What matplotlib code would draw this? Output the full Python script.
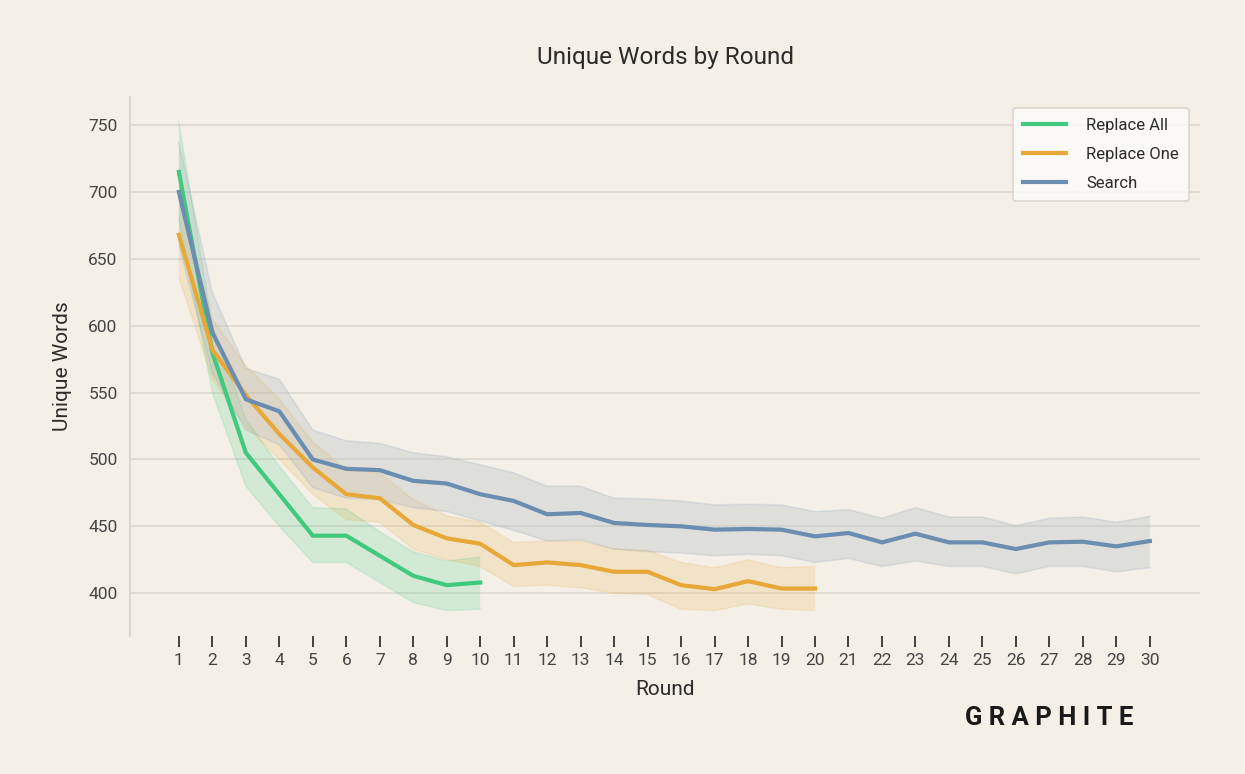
import numpy as np
import matplotlib.pyplot as plt

# Unique words per round, mean and band (upper / lower) per strategy
rounds_all = list(range(1, 11))
replace_all = [715, 580, 505, 474, 443, 443, 428, 413, 406, 408]
replace_all_hi = [752, 600, 530, 495, 464, 463, 446, 431, 424, 427]
replace_all_lo = [680, 550, 480, 450, 423, 423, 408, 393, 387, 388]

rounds_one = list(range(1, 21))
replace_one = [668, 582, 548, 519, 494, 474, 471, 451, 441, 437,
               421, 423, 421, 416, 416, 406, 403, 409, 403.5, 403.5]
replace_one_hi = [700, 605, 570, 545, 513, 492, 490, 470, 458, 453,
                  438, 439, 439, 433, 432, 423, 419, 425, 419, 420]
replace_one_lo = [636, 560, 525, 500, 474, 455, 453, 433, 425, 420,
                  405, 406, 404, 400, 399, 388, 387, 392, 388, 387]

rounds_search = list(range(1, 31))
search = [700, 595, 545, 536, 500, 493, 492, 484, 482, 474,
          469, 459, 460, 452.5, 451, 450, 447.5, 448, 447.5, 442.5,
          445, 438, 444.5, 438, 438, 433, 438, 438.5, 435, 439]
search_hi = [737, 625, 568, 560, 522, 514, 512, 505, 502, 496,
             490, 480, 480, 471, 470.5, 469, 466, 466.5, 466, 461,
             462.5, 456, 464, 457, 457, 450.5, 456, 457, 453, 457.5]
search_lo = [660, 565, 522, 511, 479, 471, 470, 464, 461, 454,
             447, 439, 440, 433, 431, 430, 428, 429, 428, 423,
             426, 420, 424, 420, 420, 414.5, 420, 420, 416, 419]

bg = '#f4f0e8'
green, orange, blue = '#3fca7d', '#e8a838', '#6a8db1'
text_col = '#2b2b2b'

plt.rcParams['font.family'] = ['Roboto', 'DejaVu Sans']

fig = plt.figure(figsize=(12.45, 7.74), dpi=100, facecolor=bg)
ax = fig.add_axes([0.1044, 0.1783, 0.8595, 0.6964], facecolor=bg)

series = [
    ('Replace All', rounds_all, replace_all, replace_all_lo, replace_all_hi, green, green, 0.18),
    ('Replace One', rounds_one, replace_one, replace_one_lo, replace_one_hi, orange, orange, 0.18),
    ('Search', rounds_search, search, search_lo, search_hi, blue, '#bcc2c8', 0.38),
]
for name, x, y, lo, hi, c, fc, a in series:
    ax.fill_between(x, lo, hi, facecolor=fc, alpha=a, linewidth=0)
    ax.plot(x, lo, color=c, alpha=0.15, linewidth=1.2)
    ax.plot(x, hi, color=c, alpha=0.15, linewidth=1.2)
    ax.plot(x, y, color=c, linewidth=3, label=name, zorder=3)

ax.set_xlim(-0.46, 31.5)
ax.set_ylim(368, 771)
ax.set_xticks(rounds_search)
ax.set_yticks([400, 450, 500, 550, 600, 650, 700, 750])
ax.grid(axis='y', color='#dcd8d0', linewidth=1.2)
ax.set_axisbelow(True)

for s in ['top', 'right', 'bottom']:
    ax.spines[s].set_visible(False)
ax.spines['left'].set_color('#dcd8d0')
ax.spines['left'].set_linewidth(1.5)

ax.tick_params(axis='x', length=8, width=1.3, color='#333333', labelsize=12.5,
               labelcolor='#444444', pad=4)
ax.tick_params(axis='y', length=0, labelsize=12.5, labelcolor='#444444', pad=9)

ax.set_xlabel('Round', fontsize=15, color=text_col, labelpad=9)
ax.set_ylabel('Unique Words', fontsize=15, color=text_col, labelpad=12)
ax.set_title('Unique Words by Round', fontsize=17.5, color=text_col, pad=24)

leg = ax.legend(loc='upper right', bbox_to_anchor=(0.9897, 0.9796), borderaxespad=0,
                fontsize=12, frameon=True, handlelength=2.6, borderpad=0.6,
                labelspacing=0.85, handletextpad=1.2)
leg.get_frame().set_facecolor('#fdfcfa')
leg.get_frame().set_edgecolor('#d4d0c8')
leg.get_frame().set_linewidth(1.2)
for t in leg.get_texts():
    t.set_color(text_col)

fig.text(0.8425, 0.072, 'G R A P H I T E', fontsize=18.5, fontweight='bold',
         color='#1a1a1a', ha='center', va='center')

fig.savefig('out.png', dpi=100, facecolor=bg)
